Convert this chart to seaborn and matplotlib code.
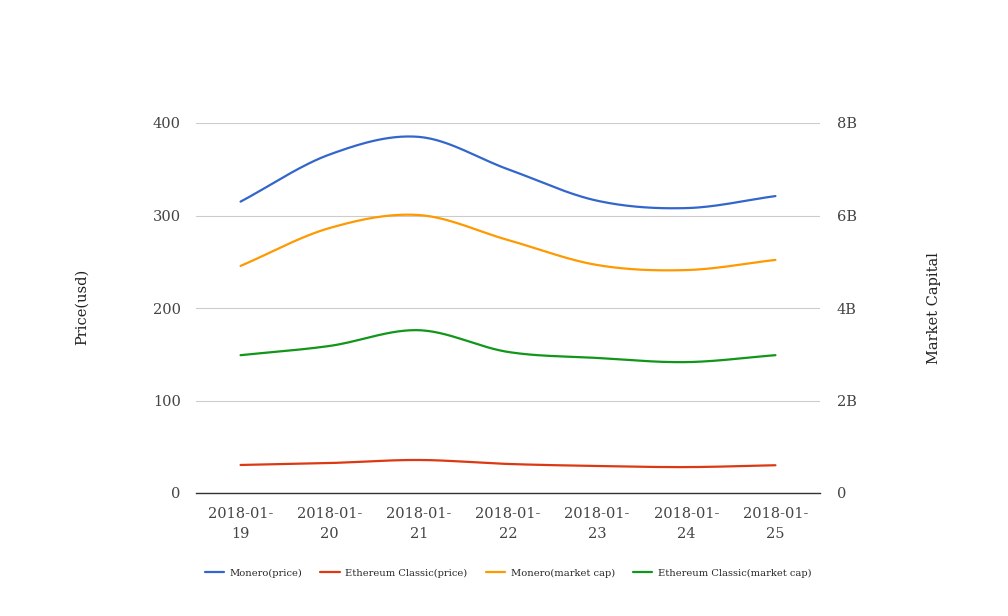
import numpy as np
import pandas as pd
import matplotlib
matplotlib.use("Agg")
import matplotlib.pyplot as plt
import seaborn as sns
from matplotlib.ticker import FuncFormatter

dates = ["2018-01-19", "2018-01-20", "2018-01-21", "2018-01-22", "2018-01-23", "2018-01-24", "2018-01-25"]
date_labels = ["2018-01-\n19", "2018-01-\n20", "2018-01-\n21", "2018-01-\n22", "2018-01-\n23", "2018-01-\n24", "2018-01-\n25"]
monero_price = [315, 366, 385, 350, 316, 308, 321]
etc_price = [30.3, 32.4, 35.7, 31.4, 29.2, 28.0, 30.0]
monero_cap = [4.91e9, 5.73e9, 6.01e9, 5.47e9, 4.93e9, 4.82e9, 5.04e9]
etc_cap = [2.98e9, 3.18e9, 3.52e9, 3.05e9, 2.92e9, 2.83e9, 2.98e9]

colors = {"Monero(price)": "#3366cc", "Ethereum Classic(price)": "#dc3912",
          "Monero(market cap)": "#ff9900", "Ethereum Classic(market cap)": "#109618"}

sns.set_style("white")
plt.rcParams["font.family"] = ["DejaVu Serif"]

def smooth(y, n=30):
    # Catmull-Rom style cubic Bezier rendering of the line through the data points
    y = np.asarray(y, float)
    N = len(y)
    xs, ys = [], []
    for i in range(N - 1):
        ym = y[i - 1] if i > 0 else y[i]
        yn = y[i + 2] if i + 2 < N else y[i + 1]
        dm = 2.0 if i > 0 else 1.0
        dn = 2.0 if i + 2 < N else 1.0
        c1y = y[i] + (y[i + 1] - ym) / dm / 3
        c2y = y[i + 1] - (yn - y[i]) / dn / 3
        t = np.linspace(0, 1, n, endpoint=(i == N - 2))
        b = [(1 - t) ** 3, 3 * (1 - t) ** 2 * t, 3 * (1 - t) * t ** 2, t ** 3]
        xs.append(i + t)
        ys.append(b[0] * y[i] + b[1] * c1y + b[2] * c2y + b[3] * y[i + 1])
    return np.concatenate(xs), np.concatenate(ys)

fig = plt.figure(figsize=(10.08, 6.16), dpi=100)
ax = fig.add_axes([196 / 1008, 1 - 493 / 616, (820 - 196) / 1008, (493 - 123) / 616])
ax2 = ax.twinx()

handles = []
for name, vals, a in [("Monero(price)", monero_price, ax),
                      ("Ethereum Classic(price)", etc_price, ax),
                      ("Monero(market cap)", monero_cap, ax2),
                      ("Ethereum Classic(market cap)", etc_cap, ax2)]:
    sx, sy = smooth(vals)
    df = pd.DataFrame({"x": sx, "y": sy})
    sns.lineplot(data=df, x="x", y="y", ax=a, color=colors[name], linewidth=1.6,
                 sort=False, estimator=None, legend=False)
    handles.append(plt.Line2D([], [], color=colors[name], linewidth=1.6, label=name))

ax.set_xlim(-0.5, len(dates) - 0.5)
ax.set_ylim(0, 400)
ax2.set_ylim(0, 8e9)
ax.set_yticks([0, 100, 200, 300, 400])
ax2.set_yticks([0, 2e9, 4e9, 6e9, 8e9])
ax2.yaxis.set_major_formatter(FuncFormatter(lambda v, p: "0" if v == 0 else f"{v/1e9:.0f}B"))
ax.set_xticks(range(len(dates)))
ax.set_xticklabels(date_labels, linespacing=1.6)

ax.grid(axis="y", color="#cccccc", linewidth=0.8)
ax.set_axisbelow(True)
for a in (ax, ax2):
    for sp in a.spines.values():
        sp.set_visible(False)
ax.spines["bottom"].set_visible(True)
ax.spines["bottom"].set_color("#333333")
ax.spines["bottom"].set_linewidth(1.0)

tc = "#444444"
ax.tick_params(axis="y", length=0, pad=11, labelsize=10.5, labelcolor=tc)
ax.tick_params(axis="x", length=0, pad=10, labelsize=10.5, labelcolor=tc)
ax2.tick_params(axis="y", length=0, pad=12, labelsize=10.5, labelcolor=tc)
for lbl in ax2.get_yticklabels():
    lbl.set_horizontalalignment("left")

ax.set_xlabel("")
ax.set_ylabel("")
ax2.set_ylabel("")
fig.text(82 / 1008, 1 - 307 / 616, "Price(usd)", rotation=90, ha="center", va="center",
         fontsize=10.5, color="#222222")
fig.text(934 / 1008, 1 - 308 / 616, "Market Capital", rotation=90, ha="center", va="center",
         fontsize=10.5, color="#222222")

fig.legend(handles=handles, loc="center", bbox_to_anchor=(508 / 1008, 1 - 573 / 616),
           ncol=4, frameon=False, fontsize=7.1, handlelength=2.0, handletextpad=0.55,
           columnspacing=1.8)

fig.savefig("out.png", dpi=100, facecolor="white")
